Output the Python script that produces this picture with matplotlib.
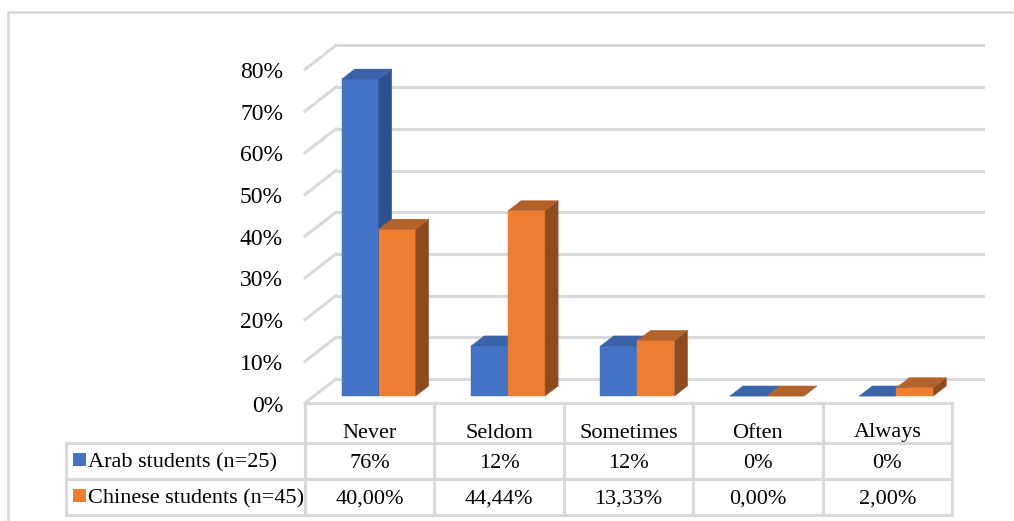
import numpy as np
import matplotlib
matplotlib.use('Agg')
import matplotlib.pyplot as plt
from matplotlib.patches import Polygon, Rectangle

# data
categories = ['Never', 'Seldom', 'Sometimes', 'Often', 'Always']
series = ['Arab students (n=25)', 'Chinese students (n=45)']
arab = [0.76, 0.12, 0.12, 0.0, 0.0]
chinese = [0.40, 0.4444, 0.1333, 0.0, 0.02]
arab_labels = ['76%', '12%', '12%', '0%', '0%']
chinese_labels = ['40,00%', '44,44%', '13,33%', '0,00%', '2,00%']
yticks = [0, 0.1, 0.2, 0.3, 0.4, 0.5, 0.6, 0.7, 0.8]

# colours: front, top, side
blue = ['#4472C4', '#3A63AA', '#2F528F']
orange = ['#ED7D31', '#B5622A', '#8E4B21']
grid_col = '#D9D9D9'

plt.rcParams['font.family'] = ['Liberation Serif', 'DejaVu Serif']
fs = 16

W, H = 1014, 521
fig = plt.figure(figsize=(W / 100, H / 100), dpi=100)
ax = fig.add_axes([0, 0, 1, 1])

# scale: 129.4 px per category, 417 px per 100 %
px_x = 129.4
px_y = 417.0
x0_px = 305      # left of floor front edge
y0_px = H - 403  # floor front edge, from bottom
ax.set_xlim(-x0_px / px_x, (W - x0_px) / px_x)
ax.set_ylim(-y0_px / px_y, (H - y0_px) / px_y)
ax.axis('off')

# depth offset of the whole floor (back - front)
ddx = 31 / px_x
ddy = 24 / px_y
n = len(categories)


def P(x, y, d):
    # point at depth d (0 front, 1 back)
    return (x + d * ddx, y + d * ddy)


# outer frame
fig.patches.append(Rectangle((8 / W, -0.1), 1.2, (H - 12) / H + 0.1,
                             transform=fig.transFigure, fill=False,
                             edgecolor=grid_col, lw=2))

# back wall grid and left wall diagonals
for v in yticks:
    ax.plot([P(0, v, 1)[0], P(n, v, 1)[0]], [P(0, v, 1)[1]] * 2,
            color=grid_col, lw=2.2, zorder=1)
    ax.plot([P(0, v, 0)[0], P(0, v, 1)[0]], [P(0, v, 0)[1], P(0, v, 1)[1]],
            color=grid_col, lw=2.2, zorder=1)
    ax.text(-22 / px_x, v - 3 / px_y, f'{int(round(v * 100))}%', ha='right',
            va='center', fontsize=17)

# bars
bw = 0.286
d0, d1 = 0.29, 0.71


def bar3d(xl, h, cols):
    xr = xl + bw
    front = [P(xl, 0, d0), P(xr, 0, d0), P(xr, h, d0), P(xl, h, d0)]
    side = [P(xr, 0, d0), P(xr, 0, d1), P(xr, h, d1), P(xr, h, d0)]
    top = [P(xl, h, d0), P(xr, h, d0), P(xr, h, d1), P(xl, h, d1)]
    for pts, c in [(front, cols[0]), (side, cols[2]), (top, cols[1])]:
        ax.add_patch(Polygon(pts, closed=True, facecolor=c, edgecolor=c,
                             lw=0.3, zorder=3))


for i in range(n):
    c = i + 0.5
    bar3d(c - bw, arab[i], blue)
    bar3d(c, chinese[i], orange)

# data table
r0 = 0.0
r1 = -40 / px_y
r2 = -76 / px_y
r3 = -112 / px_y
left = -(305 - 66) / px_x
tl = dict(color=grid_col, lw=2.2, zorder=2, solid_capstyle='projecting')
ax.plot([0, n], [r0, r0], **tl)
ax.plot([left, n], [r1, r1], **tl)
ax.plot([left, n], [r2, r2], **tl)
ax.plot([left, n], [r3, r3], **tl)
ax.plot([left, left], [r1, r3], **tl)
for i in range(n + 1):
    ax.plot([i, i], [r0, r3], **tl)

dy = 2 / px_y
for i, cat in enumerate(categories):
    ax.text(i + 0.5, (r0 + r1) / 2 - 10 / px_y, cat, ha='center',
            va='center', fontsize=fs)
    ax.text(i + 0.5, (r1 + r2) / 2 - dy, arab_labels[i], ha='center',
            va='center', fontsize=fs)
    ax.text(i + 0.5, (r2 + r3) / 2 - dy, chinese_labels[i], ha='center',
            va='center', fontsize=fs)

for r, name, col in [((r1 + r2) / 2, series[0], blue[0]),
                     ((r2 + r3) / 2, series[1], orange[0])]:
    ax.add_patch(Rectangle((left + 7 / px_x, r - 5 / px_y), 13 / px_x,
                           13 / px_y, facecolor=col, edgecolor='none',
                           zorder=3))
    ax.text(left + 22 / px_x, r - dy, name, ha='left', va='center',
            fontsize=fs)

fig.savefig('out.png', dpi=100)
